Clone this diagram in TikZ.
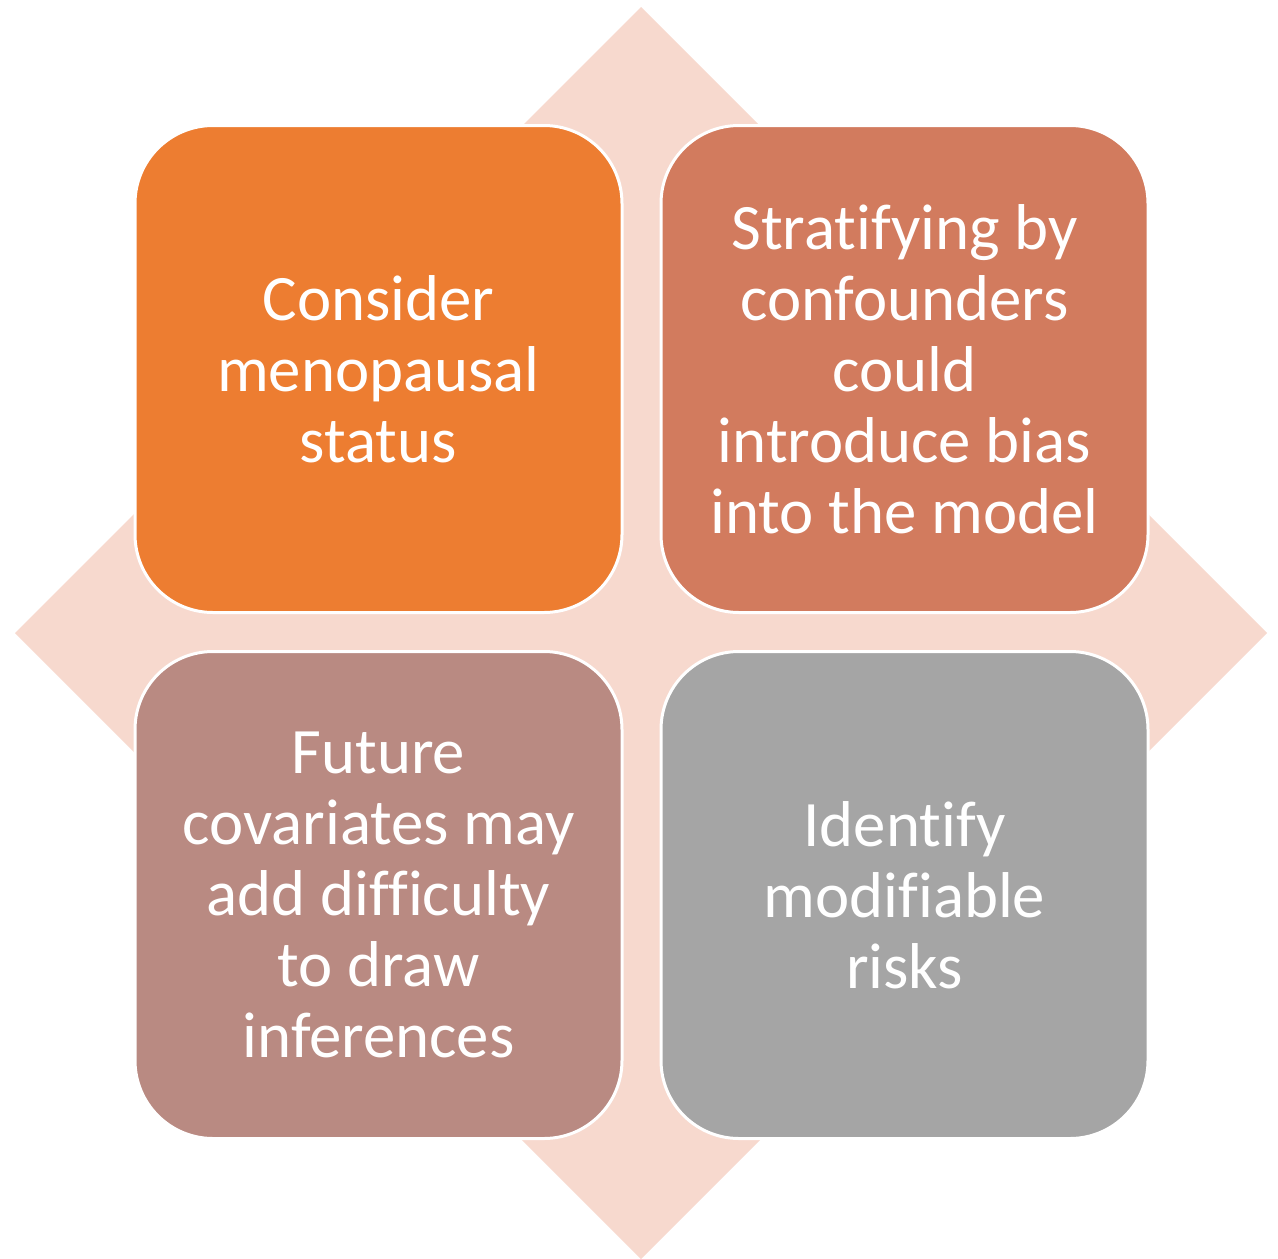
\documentclass[tikz,border=0pt]{standalone}
\usepackage{fontspec}
\setmainfont{Carlito}[Ligatures=NoCommon]
\usepackage{tikz}
\usetikzlibrary{positioning}

\definecolor{diamondfill}{RGB}{247,217,206}
\definecolor{orangebox}{RGB}{237,125,49}
\definecolor{rustbox}{RGB}{210,123,94}
\definecolor{mauvebox}{RGB}{185,138,130}
\definecolor{greybox}{RGB}{165,165,165}

\begin{document}
\begin{tikzpicture}[
    x=1pt, y=-1pt,
    node distance=39pt,
    quad/.style={rectangle, draw=white, line width=3pt, rounded corners=78pt, outer sep=0pt,
        minimum width=487pt, minimum height=487pt, align=center, text=white,
        font=\fontsize{64.8}{71}\selectfont}
]
\useasboundingbox (0,0) rectangle (1278,1259);

% backdrop
\fill[diamondfill] (641,7) -- (1267,633) -- (641,1259) -- (15,633) -- cycle;

\node[quad, fill=orangebox] (menopause) at (378.5,369) {Consider\\menopausal\\status};
\node[quad, fill=rustbox, right=of menopause] (confound) {Stratifying by\\confounders\\could\\introduce bias\\into the model};
\node[quad, fill=mauvebox, below=of menopause] (covariates) {Future\\covariates may\\add difficulty\\to draw\\inferences};
\node[quad, fill=greybox, below=of confound] (risks) {Identify\\modifiable\\risks};
\end{tikzpicture}
\end{document}
